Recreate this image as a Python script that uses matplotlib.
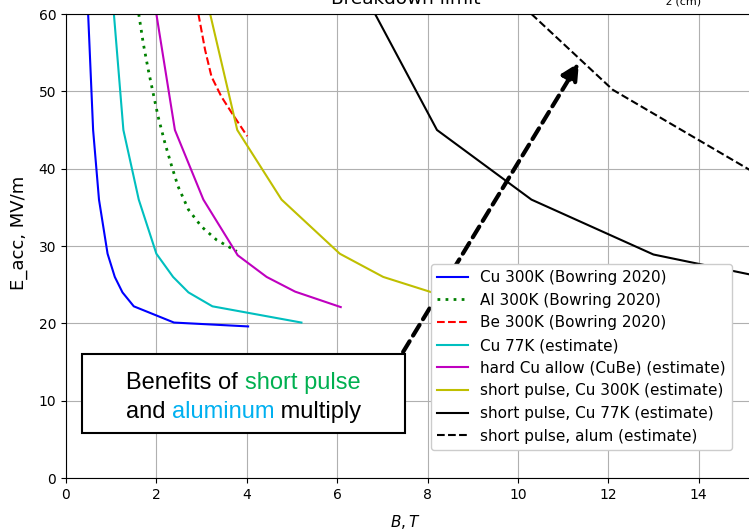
import numpy as np
import matplotlib
matplotlib.use('Agg')
import matplotlib.pyplot as plt
from matplotlib.patches import Rectangle

## Data (B in T, E_acc in MV/m)
B_cu300 = [0.49, 0.60, 0.73, 0.92, 1.08, 1.25, 1.50, 2.39, 4.03]
E_cu300 = [60, 45, 36, 29, 26, 24, 22.2, 20.1, 19.6]

B_al300 = [1.61, 1.71, 1.82, 1.92, 2.04, 2.19, 2.34, 2.48, 2.71, 3.00, 3.33, 3.78]
E_al300 = [60, 56.2, 52.8, 50, 46.7, 43.3, 40.3, 37.7, 34.7, 32.5, 30.8, 29.3]

B_be300 = [2.93, 3.08, 3.22, 3.44, 3.67, 4.01]
E_be300 = [60, 55.3, 51.9, 49.3, 47.2, 44.2]

B_cu77 = [1.06, 1.27, 1.61, 2.00, 2.37, 2.71, 3.24, 5.21]
E_cu77 = [60, 45, 36, 29, 26, 24, 22.2, 20.1]

B_cube = [2.00, 2.41, 3.04, 3.80, 4.44, 5.07, 6.08]
E_cube = [60, 45, 36, 28.8, 26, 24.1, 22.1]

B_sp300 = [3.19, 3.79, 4.77, 6.06, 7.02, 8.10, 9.75]
E_sp300 = [60, 45, 36, 29, 26, 24, 22.2]

B_sp77 = [6.84, 8.21, 10.3, 13.0, 15.4, 17.6, 21.0]
E_sp77 = [60, 45, 36, 28.9, 26, 24, 22.2]

B_spal = [10.3, 12.1, 15.2, 16.6]
E_spal = [60, 50.2, 39.6, 36]

labels = ['Cu 300K (Bowring 2020)', 'Al 300K (Bowring 2020)', 'Be 300K (Bowring 2020)',
          'Cu 77K (estimate)', 'hard Cu allow (CuBe) (estimate)',
          'short pulse, Cu 300K (estimate)', 'short pulse, Cu 77K (estimate)',
          'short pulse, alum (estimate)']

W, H = 749, 530
fig = plt.figure(figsize=(W/100, H/100), dpi=100)
ax = fig.add_axes([66/W, 52/H, 723/W, 464/H])

ax.plot(B_cu300, E_cu300, 'b-', lw=1.5, label=labels[0])
ax.plot(B_al300, E_al300, color='g', ls=(0, (1, 1.9)), lw=2, label=labels[1])
ax.plot(B_be300, E_be300, 'r--', lw=1.5, label=labels[2])
ax.plot(B_cu77, E_cu77, 'c-', lw=1.5, label=labels[3])
ax.plot(B_cube, E_cube, 'm-', lw=1.5, label=labels[4])
ax.plot(B_sp300, E_sp300, 'y-', lw=1.5, label=labels[5])
ax.plot(B_sp77, E_sp77, 'k-', lw=1.5, label=labels[6])
ax.plot(B_spal, E_spal, 'k--', lw=1.5, label=labels[7])

ax.set_xlim(0, 16)
ax.set_ylim(0, 60)
ax.set_xticks(np.arange(0, 16, 2))
ax.set_yticks(np.arange(0, 61, 10))
ax.grid(True, color='#b0b0b0', lw=0.8)
ax.spines['right'].set_visible(False)

ax.set_xlabel('$B, T$', fontsize=11)
ax.xaxis.set_label_coords((405-66)/723, -0.0754)
ax.set_ylabel('E_acc, MV/m', fontsize=13)
ax.yaxis.set_label_coords(-0.053, 0.528)

leg = ax.legend(loc='upper left', bbox_to_anchor=((431-66)/723, (478-264)/464),
                fontsize=11, framealpha=1.0, borderaxespad=0)

## Big dashed arrow
ax.annotate('', xy=(11.35, 53.7), xytext=(7.46, 16.3),
            arrowprops=dict(arrowstyle='-|>', color='k', lw=3,
                            linestyle=(0, (3, 1.6)), mutation_scale=26,
                            shrinkA=0, shrinkB=0))

## Title fragments (clipped at the top in the reference)
fig.text(406/W, 1 - 4.3/H, 'Breakdown limit', ha='center', va='baseline', fontsize=13.3)
fig.text(684/W, 1 - 5/H, 'z (cm)', ha='center', va='baseline', fontsize=8)

## Text box
fig.add_artist(Rectangle((82/W, (H-433)/H), 323/W, 79/H, transform=fig.transFigure,
                         facecolor='white', edgecolor='black', lw=1.5, zorder=5))

fnt = dict(family=['Liberation Sans', 'DejaVu Sans'], fontsize=17)
lines = [[('Benefits of ', 'black'), ('short pulse', '#00b050')],
         [('and ', 'black'), ('aluminum', '#00b0f0'), (' multiply', 'black')]]
baselines = [389, 418]
cx = 243.5

renderer = fig.canvas.get_renderer()

def text_width(s):
	t = fig.text(0, 0, s + '|', **fnt)
	w = t.get_window_extent(renderer).width
	t.remove()
	t = fig.text(0, 0, '|', **fnt)
	w -= t.get_window_extent(renderer).width
	t.remove()
	return w

for parts, yb in zip(lines, baselines):
	full = ''.join(p[0] for p in parts)
	x0 = cx - text_width(full)/2
	prefix = ''
	for s, col in parts:
		x = x0 + text_width(prefix) if prefix else x0
		fig.text(x/W, 1 - yb/H, s, color=col, ha='left', va='baseline', zorder=6, **fnt)
		prefix += s

fig.savefig('out.png', dpi=100)
